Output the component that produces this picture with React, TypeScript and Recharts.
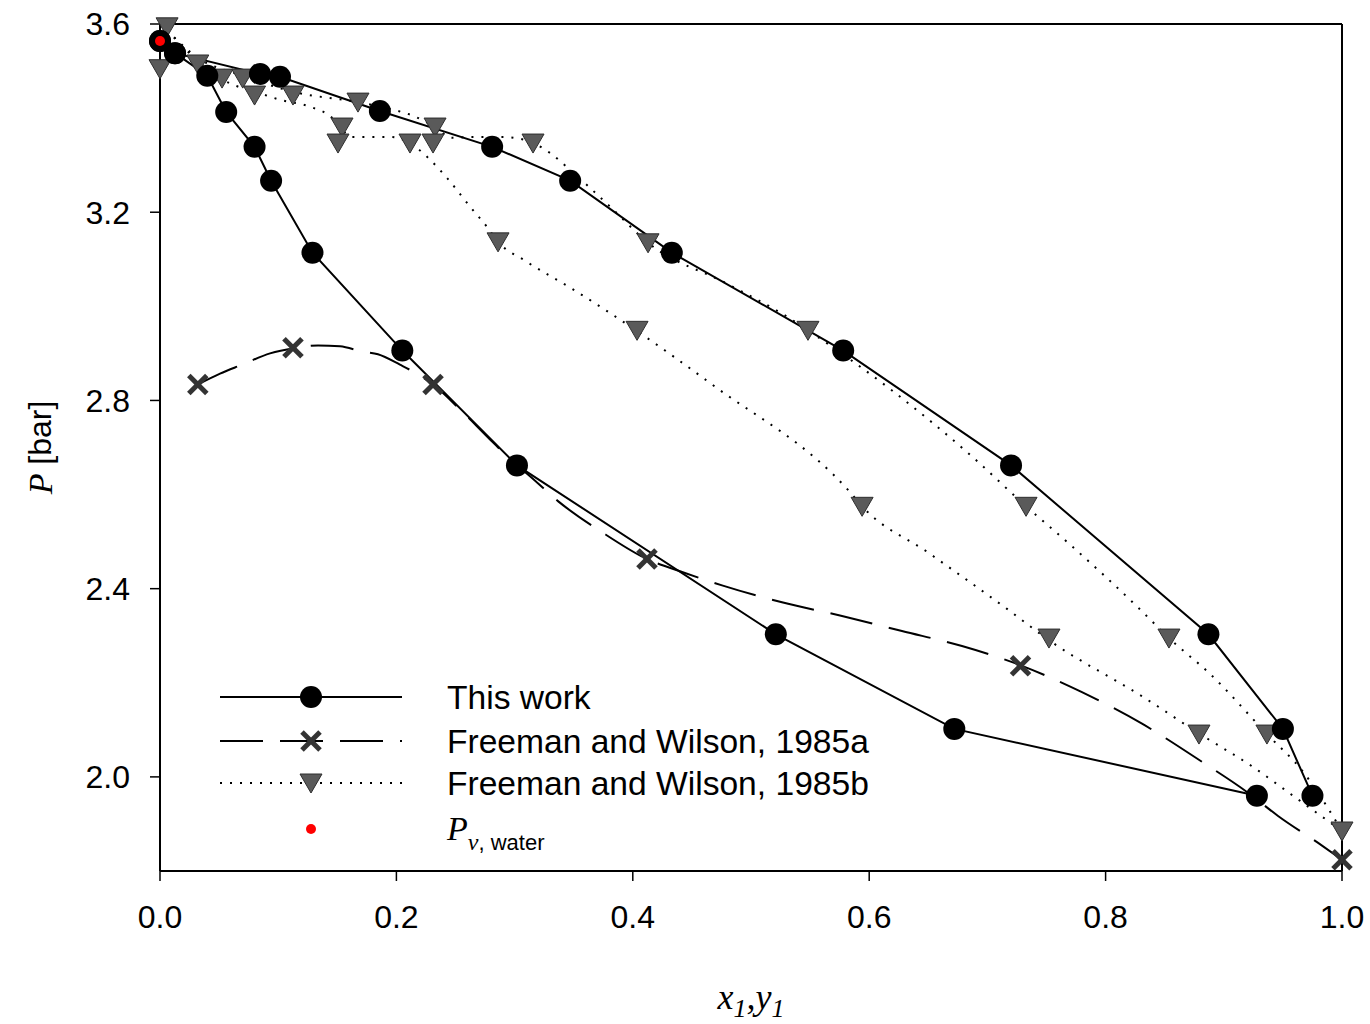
import {
  ComposedChart,
  Line,
  Scatter,
  XAxis,
  YAxis,
  ReferenceLine,
  Legend,
} from 'recharts';

interface Pt {
  x: number;
  p: number;
}

const SANS = '"Liberation Sans", Arial, sans-serif';
const SERIF = '"Liberation Serif", "Times New Roman", serif';

const xTicks = [0, 0.2, 0.4, 0.6, 0.8, 1.0];
const pTicks = [2.0, 2.4, 2.8, 3.2, 3.6];

// this work, upper (bubble) branch
const thisWorkUpper: Pt[] = [
  { x: 0, p: 3.564 },
  { x: 0.0127, p: 3.538 },
  { x: 0.0846, p: 3.494 },
  { x: 0.1015, p: 3.488 },
  { x: 0.186, p: 3.415 },
  { x: 0.281, p: 3.339 },
  { x: 0.347, p: 3.267 },
  { x: 0.433, p: 3.114 },
  { x: 0.578, p: 2.906 },
  { x: 0.72, p: 2.662 },
  { x: 0.887, p: 2.303 },
  { x: 0.95, p: 2.102 },
  { x: 0.975, p: 1.96 },
];

// this work, lower (dew) branch
const thisWorkLower: Pt[] = [
  { x: 0, p: 3.564 },
  { x: 0.0127, p: 3.538 },
  { x: 0.04, p: 3.49 },
  { x: 0.056, p: 3.413 },
  { x: 0.08, p: 3.339 },
  { x: 0.094, p: 3.267 },
  { x: 0.129, p: 3.114 },
  { x: 0.205, p: 2.906 },
  { x: 0.302, p: 2.662 },
  { x: 0.521, p: 2.303 },
  { x: 0.672, p: 2.102 },
  { x: 0.928, p: 1.96 },
];

const freeman85aPoints: Pt[] = [
  { x: 0.032, p: 2.834 },
  { x: 0.1125, p: 2.912 },
  { x: 0.231, p: 2.834 },
  { x: 0.412, p: 2.463 },
  { x: 0.728, p: 2.236 },
  { x: 1.0, p: 1.824 },
];

// dashed curve
const freeman85aCurve: Pt[] = [
  { x: 0.0321, p: 2.834 },
  { x: 0.0508, p: 2.857 },
  { x: 0.0694, p: 2.876 },
  { x: 0.0931, p: 2.9 },
  { x: 0.1159, p: 2.912 },
  { x: 0.1337, p: 2.917 },
  { x: 0.1523, p: 2.915 },
  { x: 0.1709, p: 2.904 },
  { x: 0.1844, p: 2.898 },
  { x: 0.203, p: 2.876 },
  { x: 0.2225, p: 2.849 },
  { x: 0.231, p: 2.834 },
  { x: 0.2538, p: 2.781 },
  { x: 0.2792, p: 2.717 },
  { x: 0.302, p: 2.662 },
  { x: 0.313, p: 2.639 },
  { x: 0.3367, p: 2.586 },
  { x: 0.3739, p: 2.52 },
  { x: 0.412, p: 2.463 },
  { x: 0.4399, p: 2.437 },
  { x: 0.4755, p: 2.407 },
  { x: 0.5262, p: 2.371 },
  { x: 0.577, p: 2.342 },
  { x: 0.6277, p: 2.31 },
  { x: 0.6785, p: 2.278 },
  { x: 0.7293, p: 2.236 },
  { x: 0.78, p: 2.18 },
  { x: 0.8308, p: 2.113 },
  { x: 0.8816, p: 2.032 },
  { x: 0.9196, p: 1.968 },
  { x: 0.9459, p: 1.917 },
  { x: 0.9831, p: 1.854 },
  { x: 1.0, p: 1.824 },
];

const freeman85bPoints: Pt[] = [
  { x: 0.006, p: 3.594 },
  { x: 0, p: 3.505 },
  { x: 0.032, p: 3.515 },
  { x: 0.0525, p: 3.485 },
  { x: 0.07, p: 3.485 },
  { x: 0.08, p: 3.449 },
  { x: 0.1125, p: 3.449 },
  { x: 0.1675, p: 3.434 },
  { x: 0.154, p: 3.381 },
  { x: 0.1506, p: 3.347 },
  { x: 0.2115, p: 3.347 },
  { x: 0.2327, p: 3.381 },
  { x: 0.231, p: 3.347 },
  { x: 0.3156, p: 3.347 },
  { x: 0.286, p: 3.137 },
  { x: 0.4129, p: 3.135 },
  { x: 0.4036, p: 2.949 },
  { x: 0.5482, p: 2.949 },
  { x: 0.594, p: 2.575 },
  { x: 0.7327, p: 2.575 },
  { x: 0.7521, p: 2.295 },
  { x: 0.8536, p: 2.295 },
  { x: 0.879, p: 2.091 },
  { x: 0.9365, p: 2.091 },
  { x: 1.0, p: 1.885 },
];

// dotted curves
const freeman85bUpperCurve: Pt[] = [
  { x: 0.0059, p: 3.587 },
  { x: 0.0321, p: 3.528 },
  { x: 0.0702, p: 3.49 },
  { x: 0.1125, p: 3.456 },
  { x: 0.1675, p: 3.434 },
  { x: 0.1971, p: 3.418 },
  { x: 0.214, p: 3.405 },
  { x: 0.2327, p: 3.381 },
  { x: 0.247, p: 3.358 },
  { x: 0.264, p: 3.36 },
  { x: 0.2893, p: 3.36 },
  { x: 0.3046, p: 3.356 },
  { x: 0.3156, p: 3.347 },
  { x: 0.3299, p: 3.326 },
  { x: 0.3469, p: 3.29 },
  { x: 0.3799, p: 3.214 },
  { x: 0.4129, p: 3.135 },
  { x: 0.4797, p: 3.048 },
  { x: 0.5305, p: 2.978 },
  { x: 0.5482, p: 2.949 },
  { x: 0.6878, p: 2.679 },
  { x: 0.7327, p: 2.575 },
  { x: 0.7716, p: 2.49 },
  { x: 0.8291, p: 2.356 },
  { x: 0.8536, p: 2.295 },
  { x: 0.8883, p: 2.219 },
  { x: 0.9365, p: 2.091 },
  { x: 0.967, p: 2.011 },
  { x: 1.0, p: 1.885 },
];

const freeman85bLowerCurve: Pt[] = [
  { x: 0.0059, p: 3.587 },
  { x: 0.0237, p: 3.541 },
  { x: 0.0423, p: 3.498 },
  { x: 0.0618, p: 3.471 },
  { x: 0.0804, p: 3.456 },
  { x: 0.1015, p: 3.439 },
  { x: 0.1294, p: 3.422 },
  { x: 0.1455, p: 3.401 },
  { x: 0.154, p: 3.375 },
  { x: 0.1624, p: 3.36 },
  { x: 0.1777, p: 3.36 },
  { x: 0.1946, p: 3.36 },
  { x: 0.2115, p: 3.347 },
  { x: 0.2267, p: 3.316 },
  { x: 0.2428, p: 3.273 },
  { x: 0.2623, p: 3.212 },
  { x: 0.2766, p: 3.169 },
  { x: 0.286, p: 3.137 },
  { x: 0.3088, p: 3.097 },
  { x: 0.3494, p: 3.036 },
  { x: 0.4044, p: 2.946 },
  { x: 0.467, p: 2.834 },
  { x: 0.5838, p: 2.605 },
  { x: 0.5948, p: 2.573 },
  { x: 0.6497, p: 2.477 },
  { x: 0.7166, p: 2.357 },
  { x: 0.753, p: 2.289 },
  { x: 0.8316, p: 2.17 },
  { x: 0.8799, p: 2.091 },
  { x: 0.9247, p: 2.021 },
  { x: 0.9585, p: 1.96 },
  { x: 1.0, p: 1.885 },
];

const waterVapour: Pt[] = [{ x: 0, p: 3.564 }];

const seriesNames = ['This work', 'Freeman and Wilson, 1985a', 'Freeman and Wilson, 1985b'];

function Tri({ cx, cy }: any) {
  return (
    <path
      d={`M${cx - 11},${cy - 9}L${cx + 11},${cy - 9}L${cx},${cy + 10}Z`}
      fill="#5a5a5a"
      stroke="#2e2e2e"
      strokeWidth={1}
    />
  );
}

function Cross({ cx, cy }: any) {
  return (
    <g stroke="#333" strokeWidth={5}>
      <line x1={cx - 9} y1={cy - 9} x2={cx + 9} y2={cy + 9} />
      <line x1={cx - 9} y1={cy + 9} x2={cx + 9} y2={cy - 9} />
    </g>
  );
}

function RedDot({ cx, cy }: any) {
  if (cx == null || cy == null) return null;
  return <circle key={`rd-${cx}-${cy}`} cx={cx} cy={cy} r={5} fill="#ff0000" />;
}

function LegendBox() {
  const rows = [25, 69, 111, 157];
  const mx = 101;
  return (
    <svg width={700} height={190} style={{ display: 'block' }}>
      <line x1={10} x2={192} y1={rows[0]} y2={rows[0]} stroke="#000" strokeWidth={2} />
      <circle cx={mx} cy={rows[0]} r={11} fill="#000" />
      <line x1={10} x2={192} y1={rows[1]} y2={rows[1]} stroke="#000" strokeWidth={2} strokeDasharray="43 17" />
      <Cross cx={mx} cy={rows[1]} />
      <line x1={10} x2={192} y1={rows[2]} y2={rows[2]} stroke="#000" strokeWidth={2} strokeDasharray="2 8" />
      <Tri cx={mx} cy={rows[2]} />
      <RedDot cx={mx} cy={rows[3]} />
      {seriesNames.map((name, i) => (
        <text key={name} x={237} y={rows[i] + 12} fontSize={33.6} fontFamily={SANS} fill="#000">
          {name}
        </text>
      ))}
      <text x={237} y={rows[3] + 11} fill="#000">
        <tspan fontFamily={SERIF} fontStyle="italic" fontSize={34}>P</tspan>
        <tspan fontFamily={SERIF} fontStyle="italic" fontSize={24} dy={10}>v</tspan>
        <tspan fontFamily={SANS} fontSize={22}>, water</tspan>
      </text>
    </svg>
  );
}

function YTitle(props: any) {
  const vb = props.viewBox || {};
  const cy = vb.y + vb.height / 2;
  const cx = 40;
  return (
    <text x={cx} y={cy} transform={`rotate(-90 ${cx} ${cy})`} textAnchor="middle" dominantBaseline="central" fill="#000">
      <tspan fontFamily={SERIF} fontStyle="italic" fontSize={34}>P</tspan>
      <tspan fontFamily={SANS} fontSize={32}> [bar]</tspan>
    </text>
  );
}

function XTitle(props: any) {
  const vb = props.viewBox || {};
  const cx = vb.x + vb.width / 2;
  const y = vb.y + 138;
  return (
    <text x={cx} y={y} textAnchor="middle" fill="#000" fontFamily={SERIF} fontStyle="italic">
      <tspan fontSize={36}>x</tspan>
      <tspan fontSize={26} dy={8}>1</tspan>
      <tspan fontSize={36} dy={-8}>,y</tspan>
      <tspan fontSize={26} dy={8}>1</tspan>
    </text>
  );
}

export default function App() {
  return (
    <div style={{ position: 'absolute', left: 0, top: 0, background: '#fff' }}>
      <ComposedChart width={1370} height={1024} margin={{ top: 24, right: 28, bottom: 0, left: 0 }}>
        <XAxis
          type="number"
          dataKey="x"
          domain={[0, 1]}
          ticks={xTicks}
          tickFormatter={(v: number) => v.toFixed(1)}
          height={153}
          tickSize={10}
          tickMargin={24}
          interval={0}
          axisLine={{ stroke: '#000', strokeWidth: 2 }}
          tickLine={{ stroke: '#000', strokeWidth: 1.5 }}
          tick={{ fontSize: 32, fill: '#000', fontFamily: SANS }}
          label={{ content: (p: any) => <XTitle {...p} /> }}
        />
        <YAxis
          type="number"
          dataKey="p"
          domain={[1.8, 3.6]}
          ticks={pTicks}
          tickFormatter={(v: number) => v.toFixed(1)}
          width={160}
          tickSize={10}
          tickMargin={20}
          interval={0}
          axisLine={{ stroke: '#000', strokeWidth: 2 }}
          tickLine={{ stroke: '#000', strokeWidth: 1.5 }}
          tick={{ fontSize: 32, fill: '#000', fontFamily: SANS }}
          label={{ content: (p: any) => <YTitle {...p} /> }}
        />
        <ReferenceLine y={3.6} stroke="#000" strokeWidth={2} />
        <ReferenceLine x={1} stroke="#000" strokeWidth={2} />
        <Legend
          layout="vertical"
          align="center"
          verticalAlign="middle"
          wrapperStyle={{ left: 210, top: 672, width: 700, height: 190 }}
          content={() => <LegendBox />}
        />

        <Line data={freeman85bUpperCurve} dataKey="p" type="monotone" stroke="#000" strokeWidth={2}
          strokeDasharray="2 8" dot={false} activeDot={false} isAnimationActive={false} />
        <Line data={freeman85bLowerCurve} dataKey="p" type="monotone" stroke="#000" strokeWidth={2}
          strokeDasharray="2 8" dot={false} activeDot={false} isAnimationActive={false} />
        <Line data={freeman85aCurve} dataKey="p" type="monotone" stroke="#000" strokeWidth={2}
          strokeDasharray="43 17" dot={false} activeDot={false} isAnimationActive={false} />

        <Scatter data={freeman85bPoints} dataKey="p" shape={(p: any) => <Tri {...p} />} isAnimationActive={false} />
        <Scatter data={freeman85aPoints} dataKey="p" shape={(p: any) => <Cross {...p} />} isAnimationActive={false} />

        <Line data={thisWorkUpper} dataKey="p" type="linear" stroke="#000" strokeWidth={2}
          dot={{ r: 11, fill: '#000', stroke: '#000', strokeWidth: 0 }} activeDot={false} isAnimationActive={false} />
        <Line data={thisWorkLower} dataKey="p" type="linear" stroke="#000" strokeWidth={2}
          dot={{ r: 11, fill: '#000', stroke: '#000', strokeWidth: 0 }} activeDot={false} isAnimationActive={false} />

        <Line data={waterVapour} dataKey="p" stroke="none" dot={(p: any) => <RedDot {...p} />}
          activeDot={false} isAnimationActive={false} />
      </ComposedChart>
    </div>
  );
}
